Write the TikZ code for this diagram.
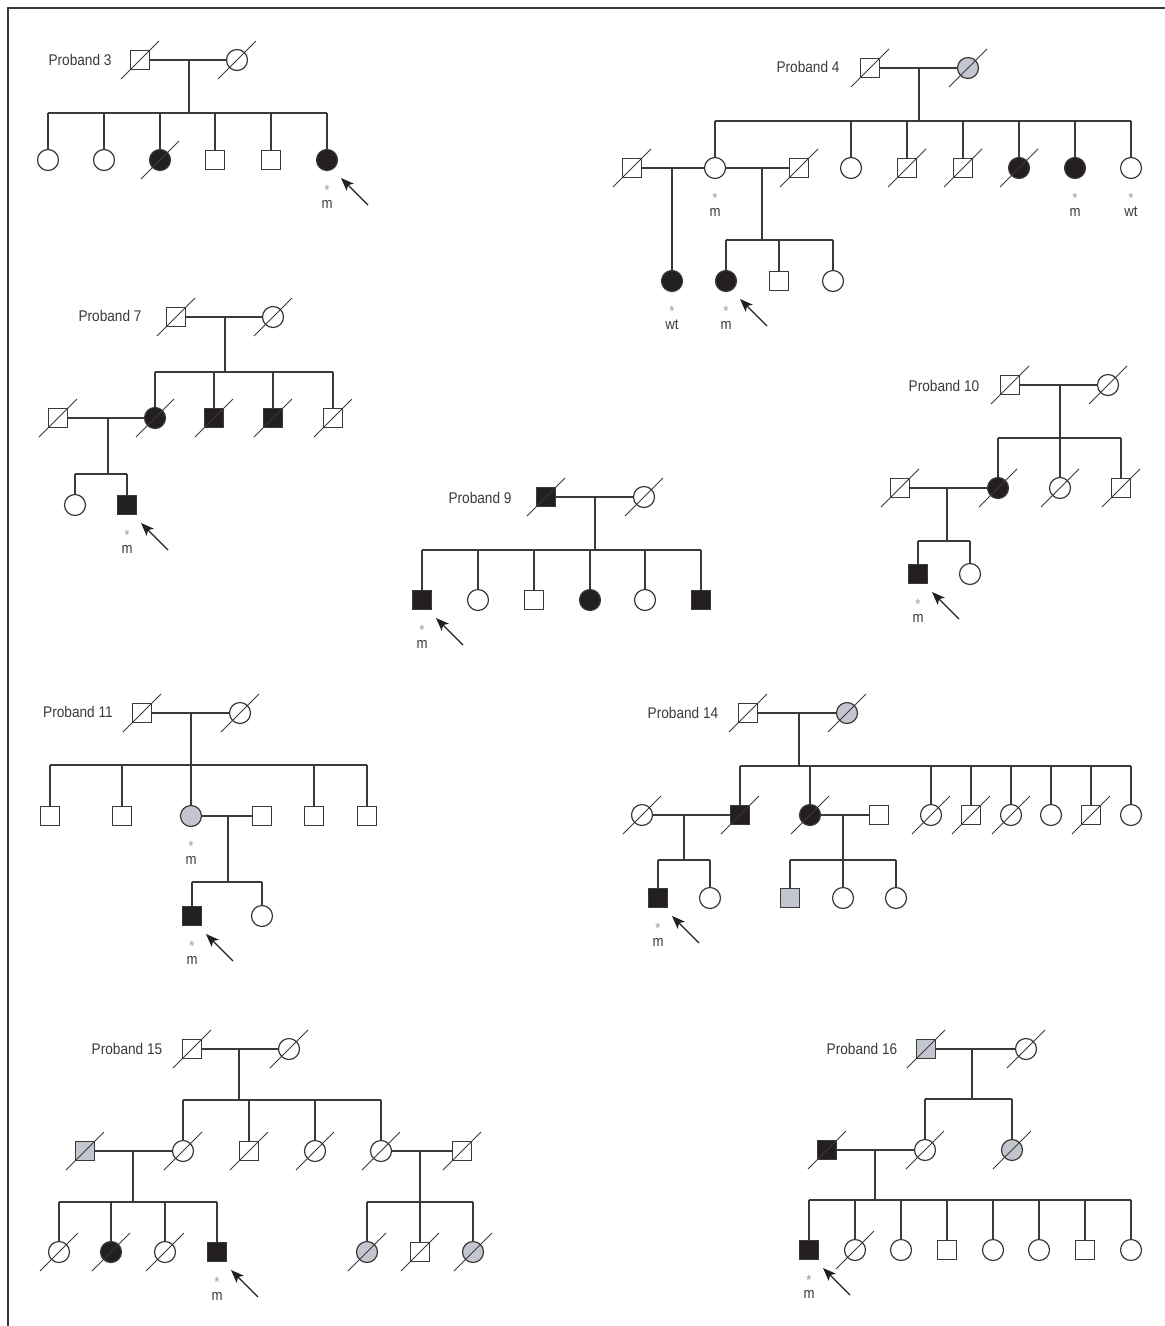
\documentclass[tikz,border=0pt]{standalone}
\usepackage{fontspec}
\usetikzlibrary{calc,arrows.meta}
\newfontfamily\labfont[FakeStretch=0.88]{Liberation Sans}
\definecolor{lc}{HTML}{3A3A3A}
\definecolor{af}{HTML}{231F20}
\definecolor{cg}{HTML}{C4C6CF}
\definecolor{ag}{HTML}{9A9A9A}
\tikzset{
  ln/.style={line width=1.2pt, draw=lc},
  sq/.style={rectangle, draw=lc, line width=1.2pt, minimum size=19pt, inner sep=0pt, fill=white},
  ci/.style={circle, draw=lc, line width=1.2pt, minimum size=21pt, inner sep=0pt, fill=white},
  aff/.style={fill=af},
  car/.style={fill=cg},
  lab/.style={font=\labfont\fontsize{15.5pt}{18pt}\selectfont, text=lc, inner sep=0pt},
  ast/.style={font=\labfont\fontsize{15pt}{18pt}\selectfont, text=ag, inner sep=0pt, anchor=base},
  gt/.style={font=\labfont\fontsize{15pt}{18pt}\selectfont, text=lc, inner sep=0pt, anchor=base},
  slash/.style={line width=1pt, draw=lc},
  arr/.style={line width=1.1pt, draw=af, -{Stealth[length=13pt,width=10pt,inset=3pt]}},
}
\newcommand\dead[1]{\draw[slash] ($(#1)+(-19,19)$) -- ($(#1)+(19,-19)$);}
\newcommand\geno[2]{\node[ast] (#1s) at ($(#1)+(0,35)$) {*};\node[gt] (#1g) at ($(#1)+(0,48)$) {#2};}
\newcommand\prob[1]{\draw[arr] ($(#1)+(41,45)$) -- ($(#1)+(14,18)$);}
\newcommand\kids[2]{\foreach \k in {#2}{\draw[ln] (\k.north) -- (\k.north |- #1);}}
\begin{document}
\begin{tikzpicture}[x=1pt,y=-1pt]
\useasboundingbox (0,0) rectangle (1165,1326);
\fill[white] (0,0) rectangle (1165,1326);
\draw[line width=1.3pt, draw=lc] (1165,8) -- (8,8) -- (8,1326);

% ---------------- Proband 3
\node[lab] (t3) at (80,60) {Proband 3};
\node[sq] (p3f) at (140,60) {};
\node[ci] (p3m) at (237,60) {};
\coordinate (p3j) at (189,60);
\coordinate (p3s) at (189,113);
\node[ci] (p3a) at (48,160) {};
\node[ci] (p3b) at (104,160) {};
\node[ci,aff] (p3c) at (160,160) {};
\node[sq] (p3d) at (215,160) {};
\node[sq] (p3e) at (271,160) {};
\node[ci,aff] (p3g) at (327,160) {};
\draw[ln] (p3f) -- (p3m);
\draw[ln] (p3j) -- (p3s);
\draw[ln] (p3a.north |- p3s) -- (p3g.north |- p3s);
\kids{p3s}{p3a,p3b,p3c,p3d,p3e,p3g}
\dead{p3f}\dead{p3m}\dead{p3c}
\geno{p3g}{m}\prob{p3g}

% ---------------- Proband 4
\node[lab] (t4) at (808,67) {Proband 4};
\node[sq] (p4f) at (870,68) {};
\node[ci,car] (p4m) at (968,68) {};
\coordinate (p4j) at (919,68);
\coordinate (p4s) at (919,121);
\node[ci] (p4a) at (715,168) {};
\node[ci] (p4b) at (851,168) {};
\node[sq] (p4c) at (907,168) {};
\node[sq] (p4d) at (963,168) {};
\node[ci,aff] (p4e) at (1019,168) {};
\node[ci,aff] (p4g) at (1075,168) {};
\node[ci] (p4h) at (1131,168) {};
\draw[ln] (p4f) -- (p4m);
\draw[ln] (p4j) -- (p4s);
\draw[ln] (p4a.north |- p4s) -- (p4h.north |- p4s);
\kids{p4s}{p4a,p4b,p4c,p4d,p4e,p4g,p4h}
\node[sq] (p4hl) at (632,168) {};
\coordinate (p4jl) at (672,168);
\node[ci,aff] (p4k) at (672,281) {};
\draw[ln] (p4hl) -- (p4a);
\draw[ln] (p4jl) -- (p4k.north);
\node[sq] (p4hr) at (799,168) {};
\coordinate (p4jr) at (762,168);
\coordinate (p4sr) at (762,240);
\node[ci,aff] (p4p) at (726,281) {};
\node[sq] (p4q) at (779,281) {};
\node[ci] (p4r) at (833,281) {};
\draw[ln] (p4a) -- (p4hr);
\draw[ln] (p4jr) -- (p4sr);
\draw[ln] (p4p.north |- p4sr) -- (p4r.north |- p4sr);
\kids{p4sr}{p4p,p4q,p4r}
\dead{p4f}\dead{p4m}\dead{p4c}\dead{p4d}\dead{p4e}\dead{p4hl}\dead{p4hr}
\geno{p4a}{m}\geno{p4g}{m}\geno{p4h}{wt}\geno{p4k}{wt}\geno{p4p}{m}\prob{p4p}

% ---------------- Proband 7
\node[lab] (t7) at (110,316) {Proband 7};
\node[sq] (p7f) at (176,317) {};
\node[ci] (p7m) at (273,317) {};
\coordinate (p7j) at (225,317);
\coordinate (p7s) at (225,372);
\node[ci,aff] (p7a) at (155,418) {};
\node[sq,aff] (p7b) at (214,418) {};
\node[sq,aff] (p7c) at (273,418) {};
\node[sq] (p7d) at (333,418) {};
\draw[ln] (p7f) -- (p7m);
\draw[ln] (p7j) -- (p7s);
\draw[ln] (p7a.north |- p7s) -- (p7d.north |- p7s);
\kids{p7s}{p7a,p7b,p7c,p7d}
\node[sq] (p7h) at (58,418) {};
\coordinate (p7jh) at (108,418);
\coordinate (p7sh) at (108,474);
\node[ci] (p7e) at (75,505) {};
\node[sq,aff] (p7g) at (127,505) {};
\draw[ln] (p7h) -- (p7a);
\draw[ln] (p7jh) -- (p7sh);
\draw[ln] (p7e.north |- p7sh) -- (p7g.north |- p7sh);
\kids{p7sh}{p7e,p7g}
\dead{p7f}\dead{p7m}\dead{p7a}\dead{p7b}\dead{p7c}\dead{p7d}\dead{p7h}
\geno{p7g}{m}\prob{p7g}

% ---------------- Proband 9
\node[lab] (t9) at (480,498) {Proband 9};
\node[sq,aff] (p9f) at (546,497) {};
\node[ci] (p9m) at (644,497) {};
\coordinate (p9j) at (595,497);
\coordinate (p9s) at (595,550);
\node[sq,aff] (p9a) at (422,600) {};
\node[ci] (p9b) at (478,600) {};
\node[sq] (p9c) at (534,600) {};
\node[ci,aff] (p9d) at (590,600) {};
\node[ci] (p9e) at (645,600) {};
\node[sq,aff] (p9g) at (701,600) {};
\draw[ln] (p9f) -- (p9m);
\draw[ln] (p9j) -- (p9s);
\draw[ln] (p9a.north |- p9s) -- (p9g.north |- p9s);
\kids{p9s}{p9a,p9b,p9c,p9d,p9e,p9g}
\dead{p9f}\dead{p9m}
\geno{p9a}{m}\prob{p9a}

% ---------------- Proband 10
\node[lab] (t10) at (944,386) {Proband 10};
\node[sq] (p10f) at (1010,385) {};
\node[ci] (p10m) at (1108,385) {};
\coordinate (p10j) at (1060,385);
\coordinate (p10s) at (1060,438);
\node[ci,aff] (p10a) at (998,488) {};
\node[ci] (p10b) at (1060,488) {};
\node[sq] (p10c) at (1121,488) {};
\draw[ln] (p10f) -- (p10m);
\draw[ln] (p10j) -- (p10b.north);
\draw[ln] (p10a.north |- p10s) -- (p10c.north |- p10s);
\kids{p10s}{p10a,p10c}
\node[sq] (p10h) at (900,488) {};
\coordinate (p10jh) at (947,488);
\coordinate (p10sh) at (947,541);
\node[sq,aff] (p10d) at (918,574) {};
\node[ci] (p10e) at (970,574) {};
\draw[ln] (p10h) -- (p10a);
\draw[ln] (p10jh) -- (p10sh);
\draw[ln] (p10d.north |- p10sh) -- (p10e.north |- p10sh);
\kids{p10sh}{p10d,p10e}
\dead{p10f}\dead{p10m}\dead{p10a}\dead{p10b}\dead{p10c}\dead{p10h}
\geno{p10d}{m}\prob{p10d}

% ---------------- Proband 11
\node[lab] (t11) at (78,712) {Proband 11};
\node[sq] (p11f) at (142,713) {};
\node[ci] (p11m) at (240,713) {};
\coordinate (p11j) at (191,713);
\coordinate (p11s) at (191,765);
\node[sq] (p11a) at (50,816) {};
\node[sq] (p11b) at (122,816) {};
\node[ci,car] (p11c) at (191,816) {};
\node[sq] (p11d) at (314,816) {};
\node[sq] (p11e) at (367,816) {};
\draw[ln] (p11f) -- (p11m);
\draw[ln] (p11j) -- (p11c.north);
\draw[ln] (p11a.north |- p11s) -- (p11e.north |- p11s);
\kids{p11s}{p11a,p11b,p11d,p11e}
\node[sq] (p11h) at (262,816) {};
\coordinate (p11jh) at (228,816);
\coordinate (p11sh) at (228,882);
\node[sq,aff] (p11g) at (192,916) {};
\node[ci] (p11k) at (262,916) {};
\draw[ln] (p11c) -- (p11h);
\draw[ln] (p11jh) -- (p11sh);
\draw[ln] (p11g.north |- p11sh) -- (p11k.north |- p11sh);
\kids{p11sh}{p11g,p11k}
\dead{p11f}\dead{p11m}
\geno{p11c}{m}\geno{p11g}{m}\prob{p11g}

% ---------------- Proband 14
\node[lab] (t14) at (683,713) {Proband 14};
\node[sq] (p14f) at (748,713) {};
\node[ci,car] (p14m) at (847,713) {};
\coordinate (p14j) at (799,713);
\coordinate (p14s) at (799,766);
\node[sq,aff] (p14a) at (740,815) {};
\node[ci,aff] (p14b) at (810,815) {};
\node[ci] (p14c) at (931,815) {};
\node[sq] (p14d) at (971,815) {};
\node[ci] (p14e) at (1011,815) {};
\node[ci] (p14g) at (1051,815) {};
\node[sq] (p14h) at (1091,815) {};
\node[ci] (p14k) at (1131,815) {};
\draw[ln] (p14f) -- (p14m);
\draw[ln] (p14j) -- (p14s);
\draw[ln] (p14a.north |- p14s) -- (p14k.north |- p14s);
\kids{p14s}{p14a,p14b,p14c,p14d,p14e,p14g,p14h,p14k}
\node[ci] (p14w) at (642,815) {};
\coordinate (p14jw) at (684,815);
\coordinate (p14sw) at (684,860);
\node[sq,aff] (p14p) at (658,898) {};
\node[ci] (p14q) at (710,898) {};
\draw[ln] (p14w) -- (p14a);
\draw[ln] (p14jw) -- (p14sw);
\draw[ln] (p14p.north |- p14sw) -- (p14q.north |- p14sw);
\kids{p14sw}{p14p,p14q}
\node[sq] (p14x) at (879,815) {};
\coordinate (p14jx) at (843,815);
\coordinate (p14sx) at (843,860);
\node[sq,car] (p14r) at (790,898) {};
\node[ci] (p14t) at (843,898) {};
\node[ci] (p14u) at (896,898) {};
\draw[ln] (p14b) -- (p14x);
\draw[ln] (p14jx) -- (p14t.north);
\draw[ln] (p14r.north |- p14sx) -- (p14u.north |- p14sx);
\kids{p14sx}{p14r,p14u}
\dead{p14f}\dead{p14m}\dead{p14a}\dead{p14b}\dead{p14c}\dead{p14d}\dead{p14e}\dead{p14h}\dead{p14w}
\geno{p14p}{m}\prob{p14p}

% ---------------- Proband 15
\node[lab] (t15) at (127,1049) {Proband 15};
\node[sq] (p15f) at (192,1049) {};
\node[ci] (p15m) at (289,1049) {};
\coordinate (p15j) at (239,1049);
\coordinate (p15s) at (239,1100);
\node[ci] (p15a) at (183,1151) {};
\node[sq] (p15b) at (249,1151) {};
\node[ci] (p15c) at (315,1151) {};
\node[ci] (p15d) at (381,1151) {};
\draw[ln] (p15f) -- (p15m);
\draw[ln] (p15j) -- (p15s);
\draw[ln] (p15a.north |- p15s) -- (p15d.north |- p15s);
\kids{p15s}{p15a,p15b,p15c,p15d}
\node[sq,car] (p15h) at (85,1151) {};
\coordinate (p15jh) at (133,1151);
\coordinate (p15sh) at (133,1202);
\node[ci] (p15e) at (59,1252) {};
\node[ci,aff] (p15g) at (111,1252) {};
\node[ci] (p15k) at (165,1252) {};
\node[sq,aff] (p15p) at (217,1252) {};
\draw[ln] (p15h) -- (p15a);
\draw[ln] (p15jh) -- (p15sh);
\draw[ln] (p15e.north |- p15sh) -- (p15p.north |- p15sh);
\kids{p15sh}{p15e,p15g,p15k,p15p}
\node[sq] (p15x) at (462,1151) {};
\coordinate (p15jx) at (420,1151);
\coordinate (p15sx) at (420,1202);
\node[ci,car] (p15q) at (367,1252) {};
\node[sq] (p15r) at (420,1252) {};
\node[ci,car] (p15t) at (473,1252) {};
\draw[ln] (p15d) -- (p15x);
\draw[ln] (p15jx) -- (p15r.north);
\draw[ln] (p15q.north |- p15sx) -- (p15t.north |- p15sx);
\kids{p15sx}{p15q,p15t}
\dead{p15f}\dead{p15m}\dead{p15a}\dead{p15b}\dead{p15c}\dead{p15d}\dead{p15h}\dead{p15e}\dead{p15g}\dead{p15k}\dead{p15x}\dead{p15q}\dead{p15r}\dead{p15t}
\geno{p15p}{m}\prob{p15p}

% ---------------- Proband 16
\node[lab] (t16) at (862,1049) {Proband 16};
\node[sq,car] (p16f) at (926,1049) {};
\node[ci] (p16m) at (1026,1049) {};
\coordinate (p16j) at (972,1049);
\coordinate (p16s) at (972,1099);
\node[ci] (p16a) at (925,1150) {};
\node[ci,car] (p16b) at (1012,1150) {};
\draw[ln] (p16f) -- (p16m);
\draw[ln] (p16j) -- (p16s);
\draw[ln] (p16a.north |- p16s) -- (p16b.north |- p16s);
\kids{p16s}{p16a,p16b}
\node[sq,aff] (p16h) at (827,1150) {};
\coordinate (p16jh) at (875,1150);
\coordinate (p16sh) at (875,1200);
\node[sq,aff] (p16c) at (809,1250) {};
\node[ci] (p16d) at (855,1250) {};
\node[ci] (p16e) at (901,1250) {};
\node[sq] (p16g) at (947,1250) {};
\node[ci] (p16k) at (993,1250) {};
\node[ci] (p16p) at (1039,1250) {};
\node[sq] (p16q) at (1085,1250) {};
\node[ci] (p16r) at (1131,1250) {};
\draw[ln] (p16h) -- (p16a);
\draw[ln] (p16jh) -- (p16sh);
\draw[ln] (p16c.north |- p16sh) -- (p16r.north |- p16sh);
\kids{p16sh}{p16c,p16d,p16e,p16g,p16k,p16p,p16q,p16r}
\dead{p16f}\dead{p16m}\dead{p16a}\dead{p16b}\dead{p16h}\dead{p16d}
\geno{p16c}{m}\prob{p16c}
\end{tikzpicture}
\end{document}
